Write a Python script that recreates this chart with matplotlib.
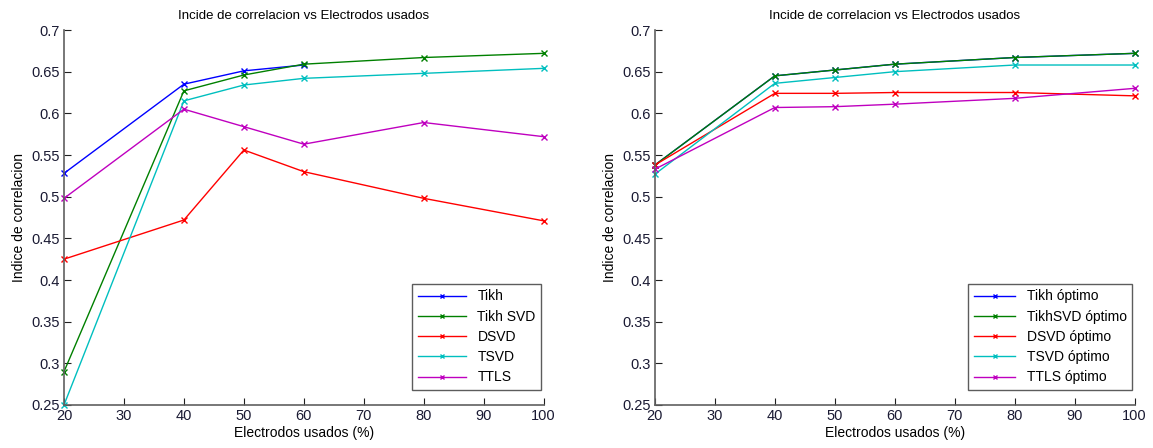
import matplotlib
matplotlib.use("Agg")
import matplotlib.pyplot as plt

plt.rcParams['font.family'] = ['Liberation Sans', 'DejaVu Sans']

electrodos = [20, 40, 50, 60, 80, 100]

# indice de correlacion por metodo (parametro fijo)
tikh = [0.528, 0.635, 0.651, 0.658]
tikh_svd = [0.290, 0.627, 0.646, 0.659, 0.667, 0.672]
dsvd = [0.425, 0.472, 0.556, 0.530, 0.498, 0.471]
tsvd = [0.250, 0.615, 0.634, 0.642, 0.648, 0.654]
ttls = [0.498, 0.605, 0.584, 0.563, 0.589, 0.572]

# indice de correlacion con parametro optimo
tikh_opt = [0.538, 0.645, 0.652, 0.659, 0.667, 0.672]
tikhsvd_opt = [0.538, 0.645, 0.652, 0.659, 0.667, 0.672]
dsvd_opt = [0.538, 0.624, 0.624, 0.625, 0.625, 0.621]
tsvd_opt = [0.527, 0.636, 0.643, 0.650, 0.658, 0.658]
ttls_opt = [0.533, 0.607, 0.608, 0.611, 0.618, 0.630]

labels_1 = ['Tikh', 'Tikh SVD', 'DSVD', 'TSVD', 'TTLS']
labels_2 = ['Tikh óptimo', 'TikhSVD óptimo', 'DSVD óptimo', 'TSVD óptimo', 'TTLS óptimo']
colores = ['#0000ff', '#008000', '#ff0000', '#00bfbf', '#bf00bf']

fig = plt.figure(figsize=(11.53, 4.48), dpi=100)
ax1 = fig.add_axes([0.0555, 0.096, 0.416, 0.837])
ax2 = fig.add_axes([0.568, 0.096, 0.416, 0.837])


def dibujar(ax, series, labels, fs_tick, hl):
    for i, (s, lab) in enumerate(zip(series, labels)):
        ax.plot(electrodos[:len(s)], s, '-x', color=colores[i], lw=1,
                ms=5, mew=1, label=lab, clip_on=False)
    ax.set_xlim(20, 100)
    ax.set_ylim(0.25, 0.7)
    ax.set_xticks(range(20, 101, 10))
    ax.set_yticks([0.25, 0.3, 0.35, 0.4, 0.45, 0.5, 0.55, 0.6, 0.65, 0.7])
    ax.set_yticklabels(['0.25', '0.3', '0.35', '0.4', '0.45', '0.5', '0.55', '0.6', '0.65', '0.7'])
    ax.spines['top'].set_visible(False)
    ax.spines['right'].set_visible(False)
    for sp in ('left', 'bottom'):
        ax.spines[sp].set_color('#606060')
        ax.spines[sp].set_linewidth(1.2)
    ax.tick_params(direction='in', length=5, color='#202020',
                   labelsize=fs_tick, labelcolor='#1a1a33', pad=3)
    ax.set_title('Incide de correlacion vs Electrodos usados', fontsize=9.5, pad=8)
    ax.set_xlabel('Electrodos usados (%)', fontsize=10, labelpad=2)
    ax.set_ylabel('Indice de correlacion', fontsize=10, labelpad=4)
    leg = ax.legend(loc='lower right', bbox_to_anchor=(0.995, 0.04), fontsize=10,
                    frameon=True, fancybox=False, edgecolor='#333333',
                    handlelength=hl, borderaxespad=0.0, labelspacing=0.45,
                    markerscale=0.7)
    leg.get_frame().set_linewidth(1.0)


dibujar(ax1, [tikh, tikh_svd, dsvd, tsvd, ttls], labels_1, 10.5, 3.5)
dibujar(ax2, [tikh_opt, tikhsvd_opt, dsvd_opt, tsvd_opt, ttls_opt], labels_2, 10.5, 3.0)

fig.savefig('out.png', dpi=100)
